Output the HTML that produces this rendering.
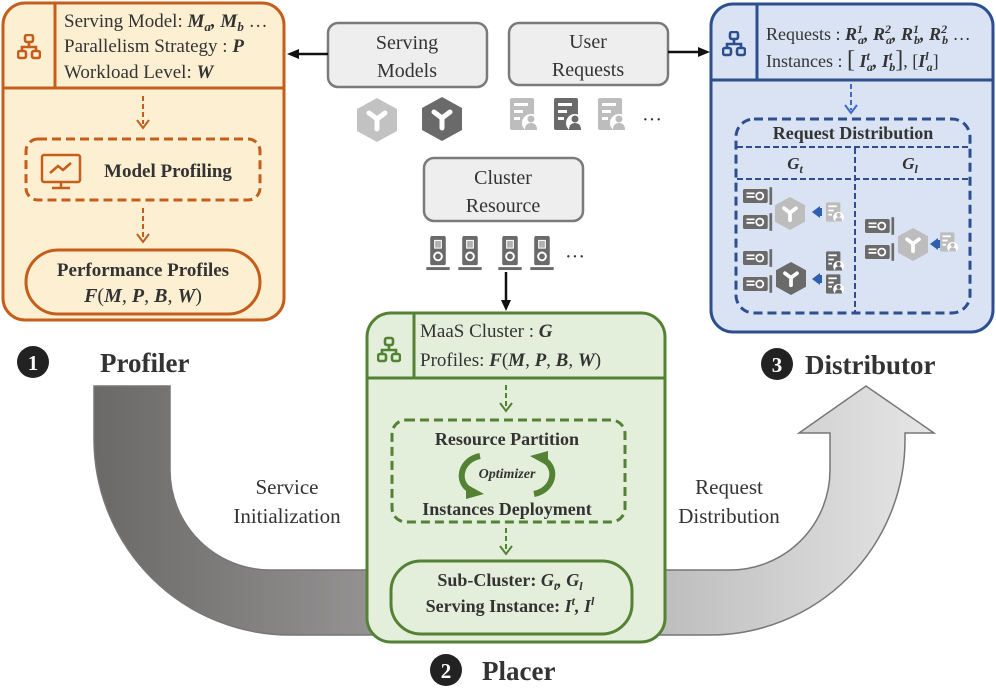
<!DOCTYPE html>
<html><head><meta charset="utf-8"><style>
body{margin:0;background:#fff}
svg{display:block}
text{font-family:"Liberation Serif",serif;fill:#333}
.b{font-weight:bold}
.bi{font-weight:bold;font-style:italic}
</style></head><body>
<svg width="996" height="691" viewBox="0 0 996 691" xmlns="http://www.w3.org/2000/svg">
<defs>
<linearGradient id="ug" x1="0" x2="1" y1="0" y2="0">
<stop offset="0" stop-color="#6b6868"/><stop offset="0.5" stop-color="#a9a7a7"/><stop offset="1" stop-color="#e6e6e6"/>
</linearGradient>
<symbol id="hex" viewBox="0 0 40 44">
<polygon points="20,0 40,11 40,33 20,44 0,33 0,11"/>
<path d="M12,15 L20,21 L28,15 M20,21 L20,31" stroke="#fff" stroke-width="5" fill="none" stroke-linecap="round"/>
</symbol>
<symbol id="doc" viewBox="0 0 30 32">
<rect x="0" y="0" width="24" height="32" rx="2"/>
<rect x="4" y="5" width="14" height="3" fill="#fff"/><rect x="4" y="12" width="9" height="3" fill="#fff"/><rect x="4" y="19" width="6" height="3" fill="#fff"/>
<circle cx="21" cy="25" r="9" fill="#fff"/>
<circle cx="21" cy="21" r="3.5"/><path d="M15,32 Q15,25 21,25 Q27,25 27,32Z"/>
</symbol>
<symbol id="gpu" viewBox="0 0 34 20">
<rect x="0" y="2" width="28" height="16" rx="2"/>
<rect x="4" y="6" width="9" height="2" fill="#fff"/><rect x="4" y="10" width="9" height="2" fill="#fff"/>
<circle cx="19" cy="10" r="4" fill="none" stroke="#fff" stroke-width="2"/>
<rect x="30" y="0" width="3" height="20"/>
</symbol>
<symbol id="vgpu" viewBox="0 0 24 36">
<rect x="4" y="0" width="16" height="30" rx="2"/>
<rect x="8" y="4" width="8" height="9" fill="#fff"/><path d="M10,5v7M12,5v7M14,5v7" stroke="#666" stroke-width="1"/>
<circle cx="12" cy="21" r="4" fill="none" stroke="#fff" stroke-width="2"/>
<rect x="0" y="32" width="24" height="3"/>
</symbol>
<symbol id="tree" viewBox="0 0 24 26">
<g fill="none" stroke-width="2.6">
<rect x="8" y="1" width="8" height="7" rx="2"/><rect x="1" y="17" width="8" height="7" rx="2"/><rect x="15" y="17" width="8" height="7" rx="2"/>
<path d="M12,8v5M5,17v-4h14v4"/></g>
</symbol>
</defs>

<!-- U arrow -->
<path d="M94,386 L170,386 L170,470 A100,100 0 0 0 270,570 L730,570 A100,100 0 0 0 830,470 L830,433 L799,433 L866,386 L934,433 L905,433 L905,440 A195,195 0 0 1 710,635 L290,635 A196,196 0 0 1 94,440 Z" fill="url(#ug)" stroke="#777" stroke-width="1.5"/>

<text x="287" y="494" font-size="21" text-anchor="middle">Service</text>
<text x="287" y="523" font-size="21" text-anchor="middle">Initialization</text>
<text x="729" y="494" font-size="21" text-anchor="middle">Request</text>
<text x="729" y="523" font-size="21" text-anchor="middle">Distribution</text>

<!-- Orange profiler -->
<rect x="3" y="3" width="281" height="317" rx="22" fill="#fdf0d2" stroke="#c55e1b" stroke-width="3"/>
<path d="M3,88H284M55,4V88" stroke="#c55e1b" stroke-width="3"/>
<use href="#tree" x="17" y="34" width="24" height="26" stroke="#c55e1b"/>
<text x="64" y="27" font-size="19">Serving Model: <tspan class="bi">M<tspan font-size="13" dy="4">a</tspan><tspan dy="-4">, M</tspan><tspan font-size="13" dy="4">b</tspan></tspan><tspan dy="-4"> …</tspan></text>
<text x="64" y="52" font-size="19">Parallelism Strategy : <tspan class="bi">P</tspan></text>
<text x="64" y="78" font-size="19">Workload Level: <tspan class="bi">W</tspan></text>
<path d="M143,96V124" stroke="#c55e1b" stroke-width="2" stroke-dasharray="5,3"/>
<path d="M137,120L143,128L149,120" fill="none" stroke="#c55e1b" stroke-width="2"/>
<rect x="26" y="139" width="234" height="61" rx="12" fill="none" stroke="#c55e1b" stroke-width="3" stroke-dasharray="9,5"/>
<g stroke="#c55e1b" stroke-width="2.5" fill="none"><rect x="42" y="155" width="38" height="27" rx="2"/><path d="M50,173l8,-7l5,4l8,-7M61,182v5M52,188h18"/></g>
<text x="168" y="177" font-size="19" class="b" text-anchor="middle">Model Profiling</text>
<path d="M143,208V238" stroke="#c55e1b" stroke-width="2" stroke-dasharray="5,3"/>
<path d="M137,234L143,242L149,234" fill="none" stroke="#c55e1b" stroke-width="2"/>
<rect x="26" y="250" width="234" height="64" rx="32" fill="none" stroke="#c55e1b" stroke-width="3"/>
<text x="143" y="276" font-size="19" class="b" text-anchor="middle">Performance Profiles</text>
<text x="143" y="302" font-size="20" text-anchor="middle"><tspan class="bi">F</tspan>(<tspan class="bi">M</tspan>, <tspan class="bi">P</tspan>, <tspan class="bi">B</tspan>, <tspan class="bi">W</tspan>)</text>

<!-- Blue distributor -->
<rect x="711" y="4" width="282" height="328" rx="22" fill="#d9e3f4" stroke="#2e4f8f" stroke-width="3"/>
<path d="M711,80H993M757,5V80" stroke="#2e4f8f" stroke-width="3"/>
<use href="#tree" x="722" y="31" width="24" height="26" stroke="#2e4f8f"/>
<text x="766" y="40" font-size="18">Requests : <tspan class="bi">R<tspan font-size="12" dy="-7">1</tspan><tspan font-size="12" dx="-5" dy="11">a</tspan><tspan dy="-4">, R</tspan><tspan font-size="12" dy="-7">2</tspan><tspan font-size="12" dx="-5" dy="11">a</tspan><tspan dy="-4">, R</tspan><tspan font-size="12" dy="-7">1</tspan><tspan font-size="12" dx="-5" dy="11">b</tspan><tspan dy="-4">, R</tspan><tspan font-size="12" dy="-7">2</tspan><tspan font-size="12" dx="-5" dy="11">b</tspan></tspan><tspan dy="-4"> …</tspan></text>
<text x="766" y="67" font-size="18">Instances : <tspan font-size="24">[</tspan> <tspan class="bi">I<tspan font-size="12" dy="-7">t</tspan><tspan font-size="12" dx="-3" dy="11">a</tspan><tspan dy="-4">, I</tspan><tspan font-size="12" dy="-7">t</tspan><tspan font-size="12" dx="-3" dy="11">b</tspan></tspan><tspan dy="-4" font-size="24">]</tspan>, [<tspan class="bi">I<tspan font-size="12" dy="-7">l</tspan><tspan font-size="12" dx="-2" dy="11">a</tspan></tspan><tspan dy="-4">]</tspan></text>
<path d="M851,84V110" stroke="#3c6cc4" stroke-width="2" stroke-dasharray="5,3"/>
<path d="M845,105L851,113L857,105" fill="none" stroke="#3c6cc4" stroke-width="2"/>
<rect x="736" y="119" width="234" height="194" rx="18" fill="none" stroke="#2e4f8f" stroke-width="3" stroke-dasharray="9,5"/>
<text x="853" y="139" font-size="18" class="b" text-anchor="middle">Request Distribution</text>
<path d="M737,147H969M737,179H969M855,148V312" stroke="#2e4f8f" stroke-width="2" stroke-dasharray="6,3"/>
<text x="795" y="169" font-size="17" class="bi" text-anchor="middle">G<tspan font-size="12" dy="4">t</tspan></text>
<text x="910" y="169" font-size="17" class="bi" text-anchor="middle">G<tspan font-size="12" dy="4">l</tspan></text>
<g fill="#6a6a6a">
<use href="#gpu" x="743" y="186" width="30" height="20"/><use href="#gpu" x="743" y="212" width="30" height="20"/>
<use href="#gpu" x="743" y="248" width="30" height="20"/><use href="#gpu" x="743" y="274" width="30" height="20"/>
<use href="#gpu" x="865" y="216" width="30" height="20"/><use href="#gpu" x="865" y="242" width="30" height="20"/>
<use href="#hex" x="776" y="262" width="30" height="33"/>
<use href="#doc" x="826" y="251" width="18" height="20"/><use href="#doc" x="826" y="274" width="18" height="20"/>
</g>
<g fill="#bdbdbd">
<use href="#hex" x="775" y="197" width="30" height="33"/>
<use href="#doc" x="826" y="202" width="18" height="20"/>
<use href="#hex" x="898" y="228" width="30" height="33"/>
<use href="#doc" x="940" y="232" width="18" height="20"/>
</g>
<g fill="#2e5fb0"><path d="M812,212l8,-6v12z"/><rect x="818" y="208" width="4" height="8"/><path d="M812,279l8,-6v12z"/><rect x="818" y="275" width="4" height="8"/><path d="M930,244l8,-6v12z"/><rect x="936" y="240" width="4" height="8"/></g>

<!-- Green placer -->
<rect x="367" y="313" width="298" height="329" rx="24" fill="#e3efdb" stroke="#548235" stroke-width="3"/>
<path d="M367,378H665M414,314V378" stroke="#548235" stroke-width="3"/>
<use href="#tree" x="377" y="336" width="24" height="28" stroke="#548235"/>
<text x="420" y="337" font-size="19">MaaS Cluster : <tspan class="bi">G</tspan></text>
<text x="420" y="366" font-size="19">Profiles: <tspan class="bi">F</tspan>(<tspan class="bi">M</tspan>, <tspan class="bi">P</tspan>, <tspan class="bi">B</tspan>, <tspan class="bi">W</tspan>)</text>
<path d="M506,385V408" stroke="#548235" stroke-width="2" stroke-dasharray="5,3"/>
<path d="M500,403L506,411L512,403" fill="none" stroke="#548235" stroke-width="2"/>
<rect x="392" y="420" width="233" height="102" rx="14" fill="none" stroke="#548235" stroke-width="3" stroke-dasharray="9,5"/>
<text x="507" y="445" font-size="18" class="b" text-anchor="middle">Resource Partition</text>
<text x="507" y="478" font-size="14" class="bi" text-anchor="middle">Optimizer</text>
<path d="M480,456 C460,460 456,482 470,490" fill="none" stroke="#548235" stroke-width="6"/>
<path d="M466,484 L484,494 L466,499Z" fill="#548235"/>
<path d="M534,494 C554,490 558,468 544,460" fill="none" stroke="#548235" stroke-width="6"/>
<path d="M548,466 L530,456 L548,451Z" fill="#548235"/>
<text x="507" y="515" font-size="18" class="b" text-anchor="middle">Instances Deployment</text>
<path d="M506,528V551" stroke="#548235" stroke-width="2" stroke-dasharray="5,3"/>
<path d="M500,546L506,554L512,546" fill="none" stroke="#548235" stroke-width="2"/>
<rect x="391" y="561" width="241" height="73" rx="30" fill="none" stroke="#548235" stroke-width="3"/>
<text x="510" y="586" font-size="18" class="b" text-anchor="middle">Sub-Cluster: <tspan class="bi">G<tspan font-size="12" dy="4">t</tspan><tspan dy="-4">, G</tspan><tspan font-size="12" dy="4">l</tspan></tspan></text>
<text x="510" y="612" font-size="18" class="b" text-anchor="middle">Serving Instance: <tspan class="bi">I<tspan font-size="12" dy="-7">t</tspan><tspan dy="7">, I</tspan><tspan font-size="12" dy="-7">l</tspan></tspan></text>

<!-- gray input boxes -->
<g fill="#eeeeee" stroke="#7a7a7a" stroke-width="2.5">
<rect x="328" y="23" width="159" height="64" rx="10"/>
<rect x="509" y="23" width="159" height="62" rx="10"/>
<rect x="424" y="158" width="159" height="63" rx="10"/>
</g>
<text x="407" y="49" font-size="20" text-anchor="middle">Serving</text>
<text x="407" y="77" font-size="20" text-anchor="middle">Models</text>
<text x="588" y="48" font-size="20" text-anchor="middle">User</text>
<text x="588" y="76" font-size="20" text-anchor="middle">Requests</text>
<text x="503" y="184" font-size="20" text-anchor="middle">Cluster</text>
<text x="503" y="212" font-size="20" text-anchor="middle">Resource</text>
<use href="#hex" x="357" y="97" width="40" height="46" fill="#c2c2c2"/>
<use href="#hex" x="422" y="96" width="40" height="46" fill="#6a6a6a"/>
<use href="#doc" x="510" y="98" width="30" height="32" fill="#bdbdbd"/>
<use href="#doc" x="554" y="98" width="30" height="32" fill="#6a6a6a"/>
<use href="#doc" x="598" y="98" width="30" height="32" fill="#bdbdbd"/>
<text x="642" y="126" font-size="20" fill="#666">···</text>
<g fill="#6a6a6a">
<use href="#vgpu" x="426" y="236" width="24" height="35"/><use href="#vgpu" x="458" y="236" width="24" height="35"/>
<use href="#vgpu" x="498" y="236" width="24" height="35"/><use href="#vgpu" x="530" y="236" width="24" height="35"/>
</g>
<text x="565" y="263" font-size="20" fill="#666">···</text>

<!-- connectors -->
<path d="M328,54H297" stroke="#111" stroke-width="2.5"/><path d="M287,54l12,-5v10z" fill="#111"/>
<path d="M668,52H700" stroke="#111" stroke-width="2.5"/><path d="M710,52l-12,-5v10z" fill="#111"/>
<path d="M506,272V302" stroke="#111" stroke-width="2.5"/><path d="M506,311l-5,-11h10z" fill="#111"/>

<!-- labels -->
<circle cx="33" cy="362" r="16" fill="#222"/><text x="33" y="370" font-size="21" class="b" text-anchor="middle" style="fill:#fff">1</text>
<text x="100" y="372" font-size="27" class="b">Profiler</text>
<circle cx="777" cy="364" r="16" fill="#222"/><text x="777" y="372" font-size="21" class="b" text-anchor="middle" style="fill:#fff">3</text>
<text x="805" y="374" font-size="27" class="b">Distributor</text>
<circle cx="446" cy="670" r="16" fill="#222"/><text x="446" y="678" font-size="21" class="b" text-anchor="middle" style="fill:#fff">2</text>
<text x="482" y="680" font-size="27" class="b">Placer</text>
</svg>
</body></html>
